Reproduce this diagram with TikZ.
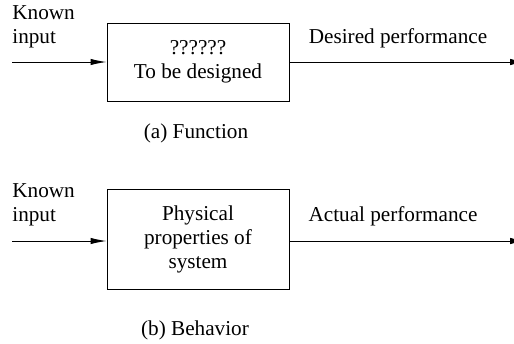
\documentclass[tikz,border=0pt]{standalone}
\usepackage{fontspec}
\setmainfont{Liberation Serif}
\usetikzlibrary{arrows.meta}
\begin{document}
\begin{tikzpicture}[x=0.5pt,y=-0.5pt,
  every node/.style={font=\fontsize{10.6pt}{12pt}\selectfont, inner sep=0pt},
  blockbox/.style={draw, line width=0.5pt, minimum width=91pt},
  lbl/.style={align=left, anchor=west},
  conn/.style={line width=0.5pt, -{Latex[length=8pt,width=3.2pt]}}]
\useasboundingbox (0,0) rectangle (514,343);
% (a) Function
\node[blockbox, minimum height=39pt, align=center] (box1) at (198,62) {??????\\To be designed};
\node[lbl] (known1) at (12,27) {Known\\input};
\coordinate (in1) at (12,62);
\coordinate (out1) at (526,62);
\draw[conn] (in1) -- (box1.west);
\draw[conn] (box1.east) -- (out1);
\node[anchor=base] (des) at (398,43) {Desired performance};
\node[anchor=base] (capa) at (196,138) {(a) Function};
% (b) Behavior
\node[blockbox, minimum height=50pt, align=center] (box2) at (198,239) {Physical\\properties of\\system};
\node[lbl] (known2) at (12,205) {Known\\input};
\coordinate (in2) at (12,241);
\coordinate (out2) at (526,241);
\draw[conn] (in2) -- (in2 -| box2.west);
\draw[conn] (in2 -| box2.east) -- (out2);
\node[anchor=base] (act) at (393,221) {Actual performance};
\node[anchor=base] (capb) at (195,335) {(b) Behavior};
\end{tikzpicture}
\end{document}
